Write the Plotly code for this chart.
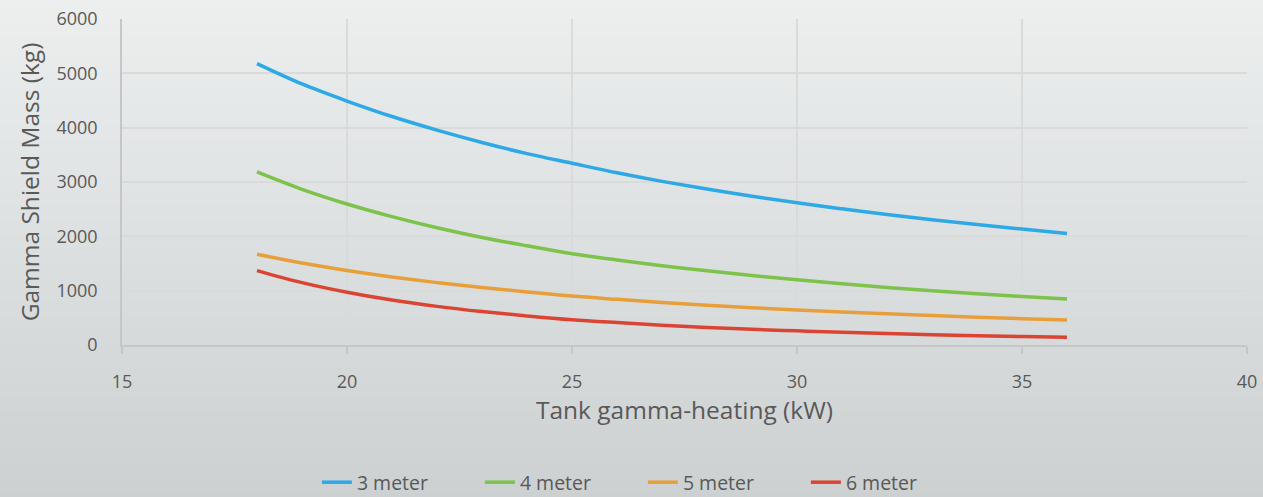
import plotly.graph_objects as go

heating_kw = [18, 19, 20, 21, 22, 23, 24, 25, 26, 27, 28, 29, 30, 31, 32, 33, 34, 35, 36]
mass_3m = [5180, 4805, 4490, 4205, 3955, 3728, 3522, 3345, 3170, 3012, 2870, 2738, 2620, 2506, 2402, 2306, 2217, 2133, 2054]
mass_4m = [3185, 2865, 2595, 2362, 2158, 1980, 1825, 1680, 1565, 1460, 1365, 1278, 1199, 1126, 1060, 999, 944, 893, 846]
mass_5m = [1670, 1508, 1371, 1252, 1148, 1057, 976, 900, 840, 784, 733, 687, 646, 608, 573, 541, 512, 485, 460]
mass_6m = [1370, 1148, 971, 827, 711, 615, 535, 465, 412, 364, 323, 288, 260, 233, 210, 190, 172, 156, 142]

series_names = ["3 meter", "4 meter", "5 meter", "6 meter"]
series_values = [mass_3m, mass_4m, mass_5m, mass_6m]
series_colors = ["#2CA9E6", "#7DC24B", "#E89F3A", "#DB4433"]

x_ticks = [15, 20, 25, 30, 35, 40]
y_ticks = [0, 1000, 2000, 3000, 4000, 5000, 6000]

FONT = "'Open Sans', sans-serif"
TEXT = "#595959"

fig = go.Figure()
for name, vals, col in zip(series_names, series_values, series_colors):
    fig.add_trace(go.Scatter(
        x=heating_kw, y=vals, name=name, mode="lines",
        line=dict(color=col, width=3.5, shape="spline"),
    ))

# background gradient (decorative bands in paper space)
shapes = []
n = 70
top = (237, 239, 239)
bot = (204, 208, 209)
y_lo, y_hi = -0.5, 1.08
for i in range(n):
    t = i / (n - 1)
    c = tuple(round(top[k] + (bot[k] - top[k]) * t) for k in range(3))
    y1 = y_hi - (y_hi - y_lo) * i / n
    y0 = y_hi - (y_hi - y_lo) * (i + 1) / n
    shapes.append(dict(type="rect", xref="paper", yref="paper",
                       x0=-0.15, x1=1.05, y0=y0 - 0.003, y1=y1 + 0.003,
                       fillcolor="rgb(%d,%d,%d)" % c, line=dict(width=0), layer="below"))

fig.update_layout(
    width=1263, height=497,
    margin=dict(l=122, r=16, t=19, b=152, autoexpand=False),
    paper_bgcolor="rgb(205,209,210)",
    plot_bgcolor="rgba(0,0,0,0)",
    font=dict(family=FONT, color=TEXT, size=18),
    shapes=shapes,
    showlegend=True,
    legend=dict(orientation="h", x=0.463, xanchor="center", y=-0.362, yanchor="top",
                font=dict(size=19.5, color=TEXT), bgcolor="rgba(0,0,0,0)",
                entrywidth=118, entrywidthmode="pixels", itemwidth=30, tracegroupgap=0),
    xaxis=dict(range=[15, 40], tickvals=x_ticks, ticktext=[str(v) for v in x_ticks],
               showgrid=True, gridcolor="#D9DADA", gridwidth=1.5,
               showline=True, linecolor="#C4C6C7", linewidth=1.5,
               ticks="outside", ticklen=7, tickcolor="#C4C6C7", tickwidth=1.5,
               zeroline=False, ticklabelstandoff=13,
               tickfont=dict(size=18, color=TEXT),
               title=dict(text="Tank gamma-heating (kW)", font=dict(size=24.5, color=TEXT), standoff=8)),
    yaxis=dict(range=[0, 6000], tickvals=y_ticks, ticktext=[str(v) for v in y_ticks],
               showgrid=True, gridcolor="#D9DADA", gridwidth=1.5,
               showline=True, linecolor="#C4C6C7", linewidth=1.5,
               ticks="", zeroline=False, ticklabelstandoff=19,
               tickfont=dict(size=18, color=TEXT),
               title=dict(text="Gamma Shield Mass (kg)", font=dict(size=24.5, color=TEXT), standoff=10)),
)

fig.write_html("out.html", config={"displayModeBar": False},
               post_script="document.body.style.margin='0';document.body.style.overflow='hidden';")
